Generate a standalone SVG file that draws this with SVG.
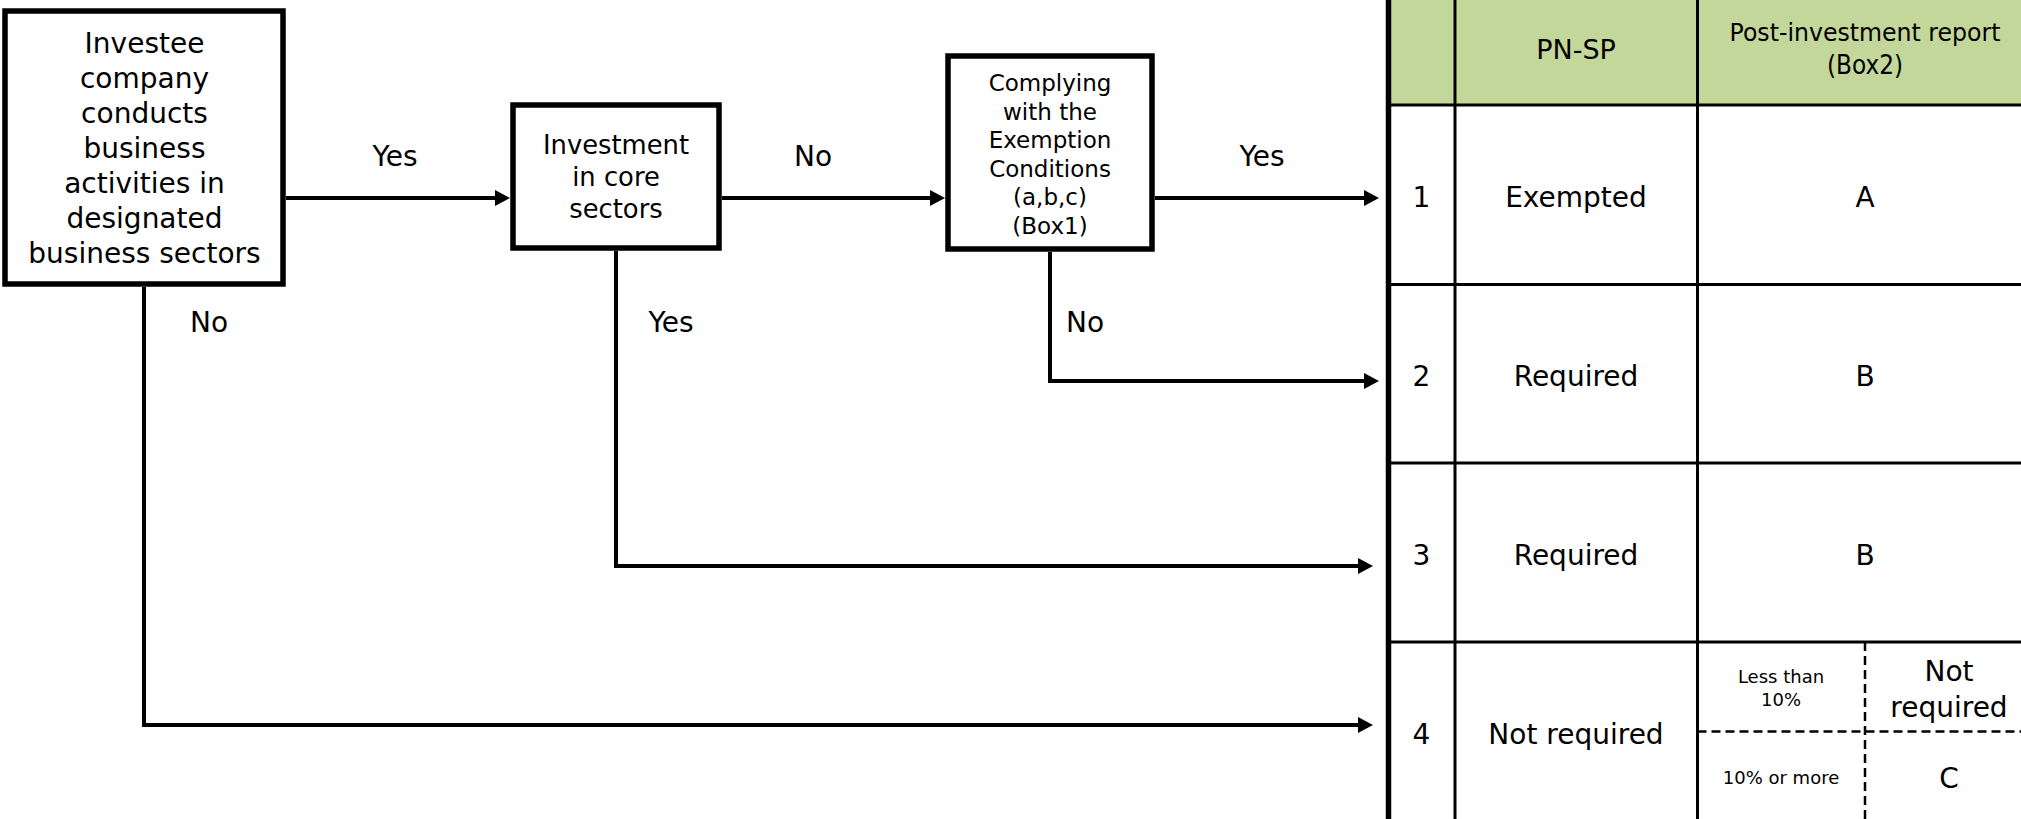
<svg xmlns="http://www.w3.org/2000/svg" width="2021" height="819" viewBox="0 0 2021 819">
<style>
text{font-family:"DejaVu Sans","Liberation Sans",sans-serif;fill:#000;text-anchor:middle}
.box{fill:#fff;stroke:#000;stroke-width:5.5}
.conn{fill:none;stroke:#000;stroke-width:4}
.grid{stroke:#000;stroke-width:3;fill:none}
.dash{stroke:#000;stroke-width:2.5;stroke-dasharray:9 5;fill:none}
.lbl{font-size:28px}
.cell{font-size:28px}
.small{font-size:18px}
</style>
<defs>
<marker id="arr" markerUnits="userSpaceOnUse" markerWidth="16" markerHeight="16" refX="7" refY="8" orient="auto">
<path d="M0,0 L15,8 L0,16 Z" fill="#000"/>
</marker>
</defs>
<rect width="2021" height="819" fill="#fff"/>

<g id="table">
<rect x="1388" y="0" width="640" height="105" fill="#C4D79B"/>
<line class="grid" x1="1388" y1="105" x2="2021" y2="105"/>
<line class="grid" x1="1388" y1="284.5" x2="2021" y2="284.5"/>
<line class="grid" x1="1388" y1="463" x2="2021" y2="463"/>
<line class="grid" x1="1388" y1="642" x2="2021" y2="642"/>
<line class="grid" x1="1455" y1="0" x2="1455" y2="819"/>
<line class="grid" x1="1697.5" y1="0" x2="1697.5" y2="819"/>
<line class="dash" x1="1697.5" y1="731.5" x2="2021" y2="731.5"/>
<line class="dash" x1="1865" y1="642" x2="1865" y2="819"/>
<line x1="1388.5" y1="0" x2="1388.5" y2="819" stroke="#000" stroke-width="5.5"/>
<text x="1576" y="59" font-size="27">PN-SP</text>
<text x="1865" y="41" font-size="25" textLength="271" lengthAdjust="spacingAndGlyphs">Post-investment report</text>
<text x="1865" y="74" font-size="26" textLength="76" lengthAdjust="spacingAndGlyphs">(Box2)</text>
<text class="cell" x="1421.5" y="207">1</text>
<text class="cell" x="1576" y="207">Exempted</text>
<text class="cell" x="1865" y="207">A</text>
<text class="cell" x="1421.5" y="386">2</text>
<text class="cell" x="1576" y="386">Required</text>
<text class="cell" x="1865" y="386">B</text>
<text class="cell" x="1421.5" y="565">3</text>
<text class="cell" x="1576" y="565">Required</text>
<text class="cell" x="1865" y="565">B</text>
<text class="cell" x="1421.5" y="744">4</text>
<text class="cell" x="1576" y="744">Not required</text>
<text class="small" x="1781" y="683">Less than</text>
<text class="small" x="1781" y="706">10%</text>
<text class="small" x="1781" y="784">10% or more</text>
<text class="cell" x="1949" y="681">Not</text>
<text class="cell" x="1949" y="717">required</text>
<text class="cell" x="1949" y="788">C</text>
</g>

<g id="connectors">
<path class="conn" d="M286,198 H502" marker-end="url(#arr)"/>
<path class="conn" d="M722,198 H937" marker-end="url(#arr)"/>
<path class="conn" d="M1155,198 H1371" marker-end="url(#arr)"/>
<path class="conn" d="M1050,252 V381 H1371" marker-end="url(#arr)"/>
<path class="conn" d="M616,251 V566 H1365" marker-end="url(#arr)"/>
<path class="conn" d="M144,287 V725 H1365" marker-end="url(#arr)"/>
<text class="lbl" x="395" y="166">Yes</text>
<text class="lbl" x="813" y="166">No</text>
<text class="lbl" x="1262" y="166">Yes</text>
<text class="lbl" x="209" y="332">No</text>
<text class="lbl" x="671" y="332">Yes</text>
<text class="lbl" x="1085" y="332">No</text>
</g>

<g id="node-investee">
<rect class="box" x="5" y="11" width="278" height="273"/>
<text font-size="28" x="144.5" y="53">Investee</text>
<text font-size="28" x="144.5" y="88">company</text>
<text font-size="28" x="144.5" y="123">conducts</text>
<text font-size="28" x="144.5" y="158">business</text>
<text font-size="28" x="144.5" y="193">activities in</text>
<text font-size="28" x="144.5" y="228">designated</text>
<text font-size="28" x="144.5" y="263">business sectors</text>
</g>

<g id="node-core">
<rect class="box" x="513" y="105" width="206" height="143"/>
<text font-size="25.8" x="616" y="154">Investment</text>
<text font-size="25.8" x="616" y="186">in core</text>
<text font-size="25.8" x="616" y="218">sectors</text>
</g>

<g id="node-exemption">
<rect class="box" x="948" y="56" width="204" height="193"/>
<text font-size="23" x="1050" y="91">Complying</text>
<text font-size="23" x="1050" y="119.5">with the</text>
<text font-size="23" x="1050" y="148">Exemption</text>
<text font-size="23" x="1050" y="176.5">Conditions</text>
<text font-size="23" x="1050" y="205">(a,b,c)</text>
<text font-size="23" x="1050" y="233.5">(Box1)</text>
</g>
</svg>
